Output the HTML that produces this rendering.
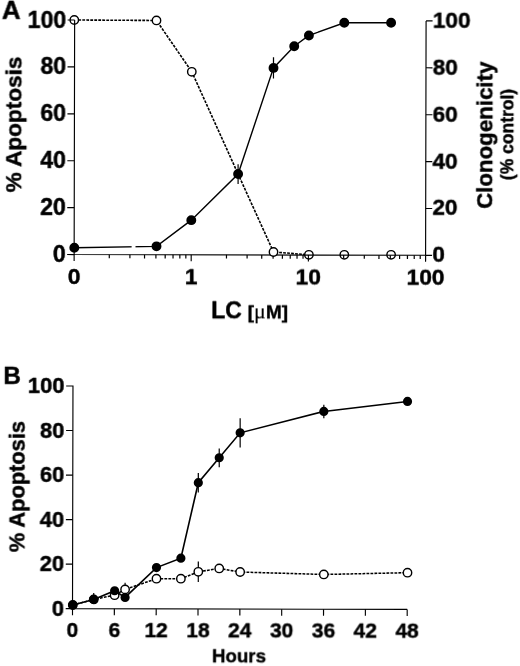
<!DOCTYPE html>
<html><head><meta charset="utf-8"><style>html,body{margin:0;padding:0;background:#fff;}body{width:520px;height:666px;position:relative;overflow:hidden;font-family:"Liberation Sans",sans-serif;}</style></head><body><svg width="520" height="666" viewBox="0 0 520 666" style="position:absolute;left:0;top:0">
<defs><filter id="soft" x="0" y="0" width="520" height="666" filterUnits="userSpaceOnUse"><feGaussianBlur stdDeviation="0.35"/></filter></defs>
<rect width="520" height="666" fill="#fff"/>
<g filter="url(#soft)"><g transform="rotate(0.12 74 300)">
<g fill="none" stroke="#000" stroke-width="1.15" stroke-linecap="butt">
<path d="M66.35000000000001 386.0 H73.15 V608.7 H407.85"/>
<path d="M66.35000000000001 608.70 H73.15"/>
<path d="M66.35000000000001 564.16 H73.15"/>
<path d="M66.35000000000001 519.62 H73.15"/>
<path d="M66.35000000000001 475.08 H73.15"/>
<path d="M66.35000000000001 430.54 H73.15"/>
<path d="M73.15 608.7 v6.5"/>
<path d="M114.99 608.7 v6.5"/>
<path d="M156.83 608.7 v6.5"/>
<path d="M198.66 608.7 v6.5"/>
<path d="M240.50 608.7 v6.5"/>
<path d="M282.34 608.7 v6.5"/>
<path d="M324.18 608.7 v6.5"/>
<path d="M366.02 608.7 v6.5"/>
<path d="M407.85 608.7 v6.5"/>
</g>
<path d="M73.71 20.00 L155.91 20.30 L191.32 71.53 L237.83 173.69 L273.40 251.56 L308.81 254.31" fill="none" stroke="#000" stroke-width="1.6" stroke-dasharray="2.8 1.2"/>
<circle cx="73.71" cy="20.00" r="4.2" fill="#fff" stroke="#000" stroke-width="1.4"/><circle cx="308.81" cy="254.31" r="4.2" fill="#fff" stroke="#000" stroke-width="1.4"/><circle cx="344.21" cy="254.23" r="4.2" fill="#fff" stroke="#000" stroke-width="1.4"/><circle cx="391.00" cy="254.14" r="4.2" fill="#fff" stroke="#000" stroke-width="1.4"/>
<g fill="none" stroke="#000" stroke-width="1.15" stroke-linecap="butt">
<path d="M74.05 20.0 V254.55 H425.5 V20.15"/>
<path d="M67.05 254.55 H74.05"/>
<path d="M425.5 254.70 h6.5"/>
<path d="M67.05 207.64 H74.05"/>
<path d="M425.5 207.79 h6.5"/>
<path d="M67.05 160.73 H74.05"/>
<path d="M425.5 160.88 h6.5"/>
<path d="M67.05 113.82 H74.05"/>
<path d="M425.5 113.97 h6.5"/>
<path d="M67.05 66.91 H74.05"/>
<path d="M425.5 67.06 h6.5"/>
<path d="M67.05 20.00 H74.05"/>
<path d="M425.5 20.15 h6.5"/>
<path d="M74.05 254.55 v6.5"/>
<path d="M109.18 254.55 v3.7" stroke-width="1.2"/>
<path d="M129.82 254.55 v3.7" stroke-width="1.2"/>
<path d="M144.46 254.55 v3.7" stroke-width="1.2"/>
<path d="M155.82 254.55 v3.7" stroke-width="1.2"/>
<path d="M165.10 254.55 v3.7" stroke-width="1.2"/>
<path d="M172.95 254.55 v3.7" stroke-width="1.2"/>
<path d="M179.74 254.55 v3.7" stroke-width="1.2"/>
<path d="M185.74 254.55 v3.7" stroke-width="1.2"/>
<path d="M191.10 254.55 v6.5"/>
<path d="M226.38 254.55 v3.7" stroke-width="1.2"/>
<path d="M247.02 254.55 v3.7" stroke-width="1.2"/>
<path d="M261.66 254.55 v3.7" stroke-width="1.2"/>
<path d="M273.02 254.55 v3.7" stroke-width="1.2"/>
<path d="M282.30 254.55 v3.7" stroke-width="1.2"/>
<path d="M290.15 254.55 v3.7" stroke-width="1.2"/>
<path d="M296.94 254.55 v3.7" stroke-width="1.2"/>
<path d="M302.94 254.55 v3.7" stroke-width="1.2"/>
<path d="M308.30 254.55 v6.5"/>
<path d="M343.58 254.55 v3.7" stroke-width="1.2"/>
<path d="M364.22 254.55 v3.7" stroke-width="1.2"/>
<path d="M378.86 254.55 v3.7" stroke-width="1.2"/>
<path d="M390.22 254.55 v3.7" stroke-width="1.2"/>
<path d="M399.50 254.55 v3.7" stroke-width="1.2"/>
<path d="M407.35 254.55 v3.7" stroke-width="1.2"/>
<path d="M414.14 254.55 v3.7" stroke-width="1.2"/>
<path d="M420.14 254.55 v3.7" stroke-width="1.2"/>
<path d="M425.50 254.55 v6.5"/>
</g>
<circle cx="155.91" cy="20.30" r="4.2" fill="#fff" stroke="#000" stroke-width="1.4"/><circle cx="191.32" cy="71.53" r="4.2" fill="#fff" stroke="#000" stroke-width="1.4"/><circle cx="273.40" cy="251.56" r="4.2" fill="#fff" stroke="#000" stroke-width="1.4"/>
<path d="M74.19 247.76 L156.39 246.17 L191.13 219.92 L237.83 173.69 L273.01 67.48 L293.68 45.84 L308.35 35.00 L343.72 22.25 L390.52 22.15" fill="none" stroke="#000" stroke-width="1.4"/>
<rect x="131.49" y="243.46" width="3.9" height="6" fill="#fff"/>
<path d="M237.81 163.82 L237.85 183.55" stroke="#000" stroke-width="1.2"/><path d="M272.99 56.92 L273.03 78.05" stroke="#000" stroke-width="1.2"/>
<circle cx="74.19" cy="247.76" r="4.95" fill="#000"/><circle cx="156.39" cy="246.17" r="4.95" fill="#000"/><circle cx="191.13" cy="219.92" r="4.95" fill="#000"/><circle cx="237.83" cy="173.69" r="4.95" fill="#000"/><circle cx="273.01" cy="67.48" r="4.95" fill="#000"/><circle cx="293.68" cy="45.84" r="4.95" fill="#000"/><circle cx="308.35" cy="35.00" r="4.95" fill="#000"/><circle cx="343.72" cy="22.25" r="4.95" fill="#000"/><circle cx="390.52" cy="22.15" r="4.95" fill="#000"/>
<path d="M73.44 604.98 L94.35 599.37 L115.26 595.10 L125.70 589.29 L157.06 578.53 L181.47 578.48 L198.88 571.54 L219.80 568.16 L240.72 571.67 L324.40 573.95 L408.08 571.99" fill="none" stroke="#000" stroke-width="1.55" stroke-dasharray="2.8 1.2"/>
<path d="M125.69 582.61 L125.72 595.97" stroke="#000" stroke-width="1.2"/><path d="M198.86 561.30 L198.90 581.78" stroke="#000" stroke-width="1.2"/>
<circle cx="73.44" cy="604.98" r="4.2" fill="#fff" stroke="#000" stroke-width="1.4"/><circle cx="94.35" cy="599.37" r="4.2" fill="#fff" stroke="#000" stroke-width="1.4"/><circle cx="115.26" cy="595.10" r="4.2" fill="#fff" stroke="#000" stroke-width="1.4"/><circle cx="125.70" cy="589.29" r="4.2" fill="#fff" stroke="#000" stroke-width="1.4"/><circle cx="157.06" cy="578.53" r="4.2" fill="#fff" stroke="#000" stroke-width="1.4"/><circle cx="181.47" cy="578.48" r="4.2" fill="#fff" stroke="#000" stroke-width="1.4"/><circle cx="198.88" cy="571.54" r="4.2" fill="#fff" stroke="#000" stroke-width="1.4"/><circle cx="219.80" cy="568.16" r="4.2" fill="#fff" stroke="#000" stroke-width="1.4"/><circle cx="240.72" cy="571.67" r="4.2" fill="#fff" stroke="#000" stroke-width="1.4"/><circle cx="324.40" cy="573.95" r="4.2" fill="#fff" stroke="#000" stroke-width="1.4"/><circle cx="408.08" cy="571.99" r="4.2" fill="#fff" stroke="#000" stroke-width="1.4"/>
<path d="M73.44 604.98 L94.35 599.37 L115.25 590.64 L125.72 597.30 L157.04 567.40 L181.42 557.99 L198.70 482.46 L219.56 457.47 L240.43 432.49 L324.06 410.93 L407.72 400.74" fill="none" stroke="#000" stroke-width="1.6"/>
<path d="M94.33 592.92 L94.35 599.37" stroke="#000" stroke-width="1.2"/><path d="M198.68 472.66 L198.72 492.26" stroke="#000" stroke-width="1.2"/><path d="M219.54 448.12 L219.58 466.83" stroke="#000" stroke-width="1.2"/><path d="M240.40 417.79 L240.46 447.19" stroke="#000" stroke-width="1.2"/><path d="M324.05 404.25 L324.08 417.61" stroke="#000" stroke-width="1.2"/>
<circle cx="73.44" cy="604.98" r="4.6" fill="#000"/><circle cx="94.35" cy="599.37" r="4.6" fill="#000"/><circle cx="115.25" cy="590.64" r="4.6" fill="#000"/><circle cx="125.72" cy="597.30" r="4.6" fill="#000"/><circle cx="157.04" cy="567.40" r="4.6" fill="#000"/><circle cx="181.42" cy="557.99" r="4.6" fill="#000"/><circle cx="198.70" cy="482.46" r="4.6" fill="#000"/><circle cx="219.56" cy="457.47" r="4.6" fill="#000"/><circle cx="240.43" cy="432.49" r="4.6" fill="#000"/><circle cx="324.06" cy="410.93" r="4.6" fill="#000"/><circle cx="407.72" cy="400.74" r="4.6" fill="#000"/>
<g font-family="Liberation Sans, sans-serif" font-weight="bold" fill="#000" stroke="#000" stroke-width="0.45" stroke-linejoin="round">
<text transform="translate(1.2,19) scale(1.04,1)" font-size="25">A</text>
<text x="3.5" y="383.6" font-size="24.3">B</text>
<text x="65.75" y="262.05" font-size="23.2" text-anchor="end">0</text>
<text x="432.30" y="261.40" font-size="22.6">0</text>
<text x="64.65" y="615.90" font-size="22" text-anchor="end">0</text>
<text x="65.75" y="215.14" font-size="23.2" text-anchor="end">20</text>
<text x="432.30" y="214.49" font-size="22.6">20</text>
<text x="64.65" y="571.36" font-size="22" text-anchor="end">20</text>
<text x="65.75" y="168.23" font-size="23.2" text-anchor="end">40</text>
<text x="432.30" y="167.58" font-size="22.6">40</text>
<text x="64.65" y="526.82" font-size="22" text-anchor="end">40</text>
<text x="65.75" y="121.32" font-size="23.2" text-anchor="end">60</text>
<text x="432.30" y="120.67" font-size="22.6">60</text>
<text x="64.65" y="482.28" font-size="22" text-anchor="end">60</text>
<text x="65.75" y="74.41" font-size="23.2" text-anchor="end">80</text>
<text x="432.30" y="73.76" font-size="22.6">80</text>
<text x="64.65" y="437.74" font-size="22" text-anchor="end">80</text>
<text x="65.75" y="27.50" font-size="23.2" text-anchor="end">100</text>
<text x="432.30" y="26.85" font-size="22.6">100</text>
<text x="64.65" y="393.20" font-size="22" text-anchor="end">100</text>
<text x="74.05" y="284.15" font-size="22.8" text-anchor="middle">0</text>
<text x="191.10" y="284.15" font-size="22.8" text-anchor="middle">1</text>
<text x="308.30" y="284.15" font-size="22.8" text-anchor="middle">10</text>
<text x="425.50" y="284.15" font-size="22.8" text-anchor="middle">100</text>
<text x="73.15" y="636.50" font-size="21" text-anchor="middle">0</text>
<text x="114.99" y="636.50" font-size="21" text-anchor="middle">6</text>
<text x="156.83" y="636.50" font-size="21" text-anchor="middle">12</text>
<text x="198.66" y="636.50" font-size="21" text-anchor="middle">18</text>
<text x="240.50" y="636.50" font-size="21" text-anchor="middle">24</text>
<text x="282.34" y="636.50" font-size="21" text-anchor="middle">30</text>
<text x="324.18" y="636.50" font-size="21" text-anchor="middle">36</text>
<text x="366.02" y="636.50" font-size="21" text-anchor="middle">42</text>
<text x="407.85" y="636.50" font-size="21" text-anchor="middle">48</text>
<text x="211.2" y="318.2" font-size="23">LC</text>
<text x="247.8" y="318.0" font-size="18.9">[<tspan font-family="Liberation Serif, serif" font-weight="normal" font-size="22" stroke-width="0.15">μ</tspan>M]</text>
<text x="239.8" y="661.8" font-size="18.7" text-anchor="middle">Hours</text>
<text transform="translate(21.2,124.6) rotate(-90)" font-size="22.6" text-anchor="middle">% Apoptosis</text>
<text transform="translate(25.2,486.7) rotate(-90)" font-size="21.8" text-anchor="middle">% Apoptosis</text>
<text transform="translate(491.6,134.4) rotate(-90)" font-size="22.3" text-anchor="middle">Clonogenicity</text>
<text transform="translate(512.8,133.5) rotate(-90)" font-size="17.5" text-anchor="middle">(% control)</text>
</g></g></g></svg></body></html>
